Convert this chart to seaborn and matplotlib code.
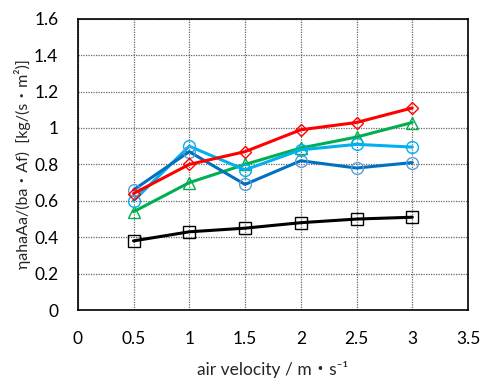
import matplotlib
matplotlib.use("Agg")
import matplotlib.pyplot as plt
import seaborn as sns
import numpy as np
import pandas as pd

#---- Data ---------------------------------------------------------####

velocity = [0.5, 1.0, 1.5, 2.0, 2.5, 3.0]

black_sq = [0.38, 0.43, 0.45, 0.48, 0.50, 0.51]
green_tri = [0.54, 0.70, 0.80, 0.89, 0.95, 1.03]
lightblue_circ = [0.60, 0.90, 0.77, 0.88, 0.91, 0.895]
darkblue_circ = [0.66, 0.87, 0.69, 0.82, 0.78, 0.81]
red_dia = [0.64, 0.80, 0.87, 0.99, 1.03, 1.11]

x_ticks = [0, 0.5, 1, 1.5, 2, 2.5, 3, 3.5]
y_ticks = [0, 0.2, 0.4, 0.6, 0.8, 1, 1.2, 1.4, 1.6]

#---- Style ---------------------------------------------------------####

sns.set_style("white")
plt.rcParams['font.family'] = ['Lato', 'Noto Sans CJK JP', 'DejaVu Sans']

# (values, line colour, marker, marker edge colour, marker size)
series = [
    (black_sq, "#000000", "s", "#000000", 8),
    (green_tri, "#00B050", "^", "#00B050", 8),
    (lightblue_circ, "#00B0F0", "o", "#00B0F0", 8.5),
    (darkblue_circ, "#0070C0", "o", "#5B9BD5", 8.5),
    (red_dia, "#FF0000", "D", "#FF0000", 6.5),
]

#---- Plot ---------------------------------------------------------####

fig = plt.figure(figsize=(4.83, 3.81), dpi=100)
ax = fig.add_axes([0.161, 0.186, 0.808, 0.765])

for vals, col, mk, mec, ms in series:
    df = pd.DataFrame({"v": velocity, "y": vals})
    sns.lineplot(data=df, x="v", y="y", ax=ax, color=col, linewidth=2.2,
                 marker=mk, markersize=ms, markerfacecolor="none",
                 markeredgecolor=mec, markeredgewidth=1.0)

ax.set_xlim(0, 3.5)
ax.set_ylim(0, 1.6)
ax.set_xticks(x_ticks)
ax.set_xticklabels([f"{t:g}" for t in x_ticks])
ax.set_yticks(y_ticks)
ax.set_yticklabels([f"{t:g}" for t in y_ticks])
ax.tick_params(axis="both", length=0, labelsize=12.5, colors="#000000")
ax.tick_params(axis="x", pad=15)
ax.tick_params(axis="y", pad=14)

ax.grid(True, color="#666666", linestyle=(0, (1, 1)), linewidth=0.9)
ax.set_axisbelow(True)
for sp in ax.spines.values():
    sp.set_color("#000000")
    sp.set_linewidth(1.2)

ax.set_xlabel("air velocity / m・s\u207b\u00b9", fontsize=12.5, labelpad=10)
ax.set_ylabel("ηahaAa/(ba・Af)  [kg/(s・m\u00b2)]", fontsize=11.5, labelpad=2)

plt.savefig("out.png", dpi=100)
